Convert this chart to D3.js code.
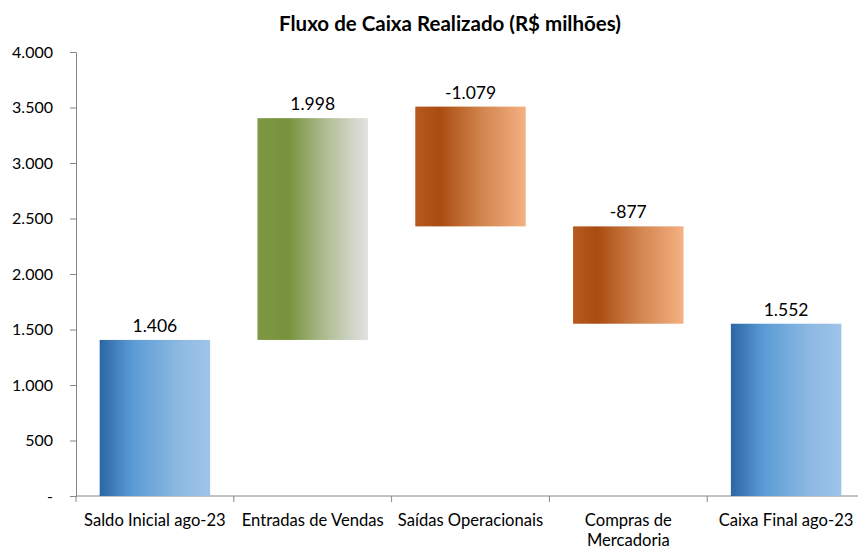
<!DOCTYPE html>
<html lang="pt">
<head>
<meta charset="utf-8">
<title>Fluxo de Caixa Realizado</title>
<script src="https://cdn.jsdelivr.net/npm/d3@7/dist/d3.min.js"></script>
<style>
  body { margin: 0; background: #fff; font-family: Lato, "Open Sans", sans-serif; }
  .axis path, .axis line { stroke: #868686; }
  .axis text { fill: #000; font-size: 16px; font-family: Lato, sans-serif; }
</style>
</head>
<body>
<script>
// data
var categories = ["Saldo Inicial ago-23", "Entradas de Vendas", "Saídas Operacionais", "Compras de Mercadoria", "Caixa Final ago-23"];
var values = [1406, 1998, -1079, -877, 1552];
var starts = [0, 1406, 3508, 2429, 0];
var kinds = ["total", "up", "down", "down", "total"];
var yTicks = [0, 500, 1000, 1500, 2000, 2500, 3000, 3500, 4000];

var data = categories.map(function(c, i) {
  return {name: c, value: values[i], start: starts[i], end: starts[i] + values[i], kind: kinds[i]};
});

var W = 858, H = 550;
var margin = {top: 52, right: -7, bottom: 54, left: 76};
var width = W - margin.left - margin.right,
    height = H - margin.top - margin.bottom;

var svg = d3.select("body").append("svg").attr("width", W).attr("height", H);

// gradients like the excel fills
var defs = svg.append("defs");
var grads = {
  total: [["0%", "#2c67a3"], ["30%", "#5b9bd5"], ["70%", "#8bb8e2"], ["100%", "#9fc4e7"]],
  up: [["0%", "#7f9744"], ["28%", "#77933c"], ["65%", "#b4c09a"], ["100%", "#e2e2e2"]],
  down: [["0%", "#b65a1f"], ["22%", "#a94c10"], ["60%", "#d2844e"], ["100%", "#f4b183"]]
};
Object.keys(grads).forEach(function(k) {
  var g = defs.append("linearGradient").attr("id", "g-" + k)
    .attr("x1", "0%").attr("x2", "100%").attr("y1", "0%").attr("y2", "0%");
  grads[k].forEach(function(s) { g.append("stop").attr("offset", s[0]).attr("stop-color", s[1]); });
});

var g = svg.append("g").attr("transform", "translate(" + margin.left + "," + margin.top + ")");

var x = d3.scaleBand().domain(categories).range([0, width]).paddingInner(0).paddingOuter(0);
var y = d3.scaleLinear().domain([0, 4000]).range([height, 0]);

var fmt = function(v) {
  if (v === 0) return "-";
  return (v < 0 ? "-" : "") + d3.format(",")(Math.abs(v)).replace(/,/g, ".");
};

// y axis
g.append("g").attr("class", "axis")
  .call(d3.axisLeft(y).tickValues(yTicks).tickSize(6).tickFormat(fmt))
  .call(function(a) { a.selectAll("text").attr("x", -23); });

// x axis with separators between categories
var xa = g.append("g").attr("class", "axis").attr("transform", "translate(0," + height + ")");
xa.append("line").attr("x1", 0).attr("x2", width).attr("y1", 0).attr("y2", 0);
xa.selectAll("line.sep").data(categories.slice(1)).enter().append("line")
  .attr("class", "sep")
  .attr("x1", function(d) { return x(d); }).attr("x2", function(d) { return x(d); })
  .attr("y1", 0).attr("y2", 6);
xa.append("line").attr("x1", 0).attr("x2", 0).attr("y1", 0).attr("y2", 6);

var labels = xa.selectAll("text.cat").data(categories).enter().append("text")
  .attr("class", "cat")
  .attr("text-anchor", "middle")
  .style("font-size", "16.6px")
  .attr("fill", "#000")
  .attr("x", function(d) { return x(d) + x.bandwidth() / 2; })
  .attr("y", 30);
labels.each(function(d) {
  var t = d3.select(this);
  var parts = d === "Compras de Mercadoria" ? ["Compras de", "Mercadoria"] : [d];
  parts.forEach(function(p, i) {
    t.append("tspan").attr("x", x(d) + x.bandwidth() / 2).attr("dy", i === 0 ? 0 : 20).text(p);
  });
});

// bars
var barW = x.bandwidth() * 0.70;
g.selectAll("rect.bar").data(data).enter().append("rect")
  .attr("class", "bar")
  .attr("x", function(d) { return x(d.name) + (x.bandwidth() - barW) / 2; })
  .attr("width", barW)
  .attr("y", function(d) { return y(Math.max(d.start, d.end)); })
  .attr("height", function(d) { return Math.abs(y(d.start) - y(d.end)); })
  .attr("fill", function(d) { return "url(#g-" + d.kind + ")"; });

// value labels
g.selectAll("text.val").data(data).enter().append("text")
  .attr("class", "val")
  .attr("text-anchor", "middle")
  .attr("font-size", 17.5)
  .attr("fill", "#000")
  .attr("x", function(d) { return x(d.name) + x.bandwidth() / 2; })
  .attr("y", function(d) { return y(Math.max(d.start, d.end)) - 8; })
  .text(function(d) { return fmt(d.value); });

// title
svg.append("text")
  .attr("x", 450).attr("y", 31)
  .attr("text-anchor", "middle")
  .attr("font-size", 20.5)
  .attr("font-weight", "bold")
  .attr("fill", "#000")
  .text("Fluxo de Caixa Realizado (R$ milhões)");
</script>
</body>
</html>
